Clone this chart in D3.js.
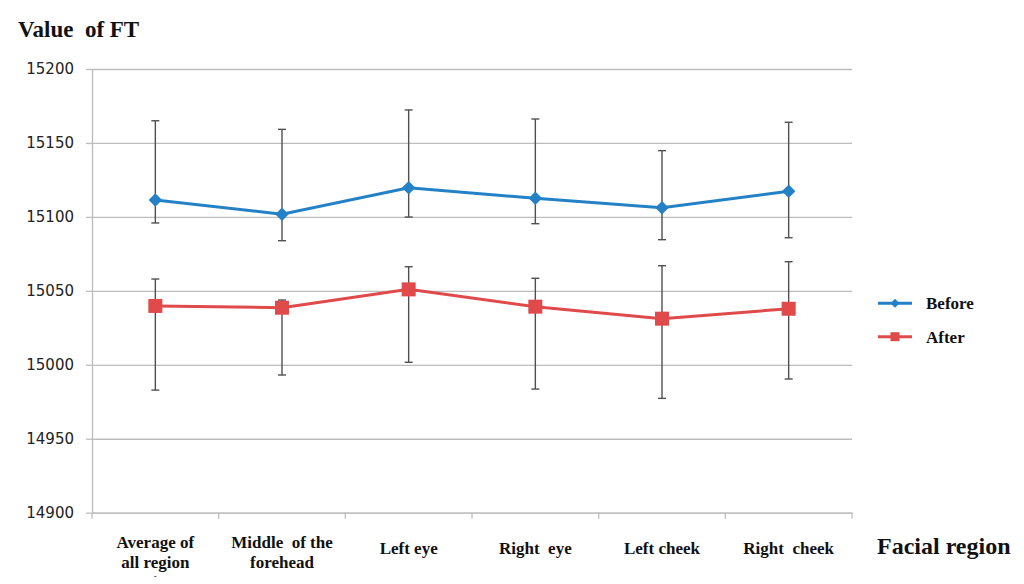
<!DOCTYPE html>
<html>
<head>
<meta charset="utf-8">
<script src="https://cdn.jsdelivr.net/npm/d3@7"></script>
<style>
  html, body { margin: 0; padding: 0; background: #fff; }
  svg { display: block; }
</style>
</head>
<body>
<svg id="chart" width="1024" height="584"></svg>
<script>
// ---- data ----
const categories = ["Average of all region", "Middle of the forehead", "Left eye", "Right eye", "Left cheek", "Right cheek"];
const categoryLines = [["Average of", "all region", "-"], ["Middle  of the", "forehead"], ["Left eye"], ["Right  eye"], ["Left cheek"], ["Right  cheek"]];
const seriesNames = ["Before", "After"];
const beforeValues = [15111.4, 15101.8, 15119.7, 15112.6, 15106.2, 15117.3];
const beforeHigh   = [15165.0, 15159.2, 15172.3, 15166.2, 15144.8, 15164.0];
const beforeLow    = [15095.9, 15083.9, 15099.9, 15095.4, 15084.6, 15085.9];
const afterValues  = [15039.8, 15038.6, 15051.0, 15039.3, 15031.2, 15037.9];
const afterHigh    = [15058.0, 15043.8, 15066.3, 15058.5, 15067.0, 15069.7];
const afterLow     = [14982.9, 14993.1, 15001.7, 14983.6, 14977.3, 14990.4];
const yTicks = [14900, 14950, 15000, 15050, 15100, 15150, 15200];

(function () {
// ---- layout ----
const svg = d3.select("#chart");
const pLeft = 92, pRight = 852, pTop = 69, pBottom = 512.7;
const x = d3.scaleBand().domain(categories).range([pLeft, pRight]).padding(0);
const y = d3.scaleLinear().domain([14900, 15200]).range([pBottom, pTop]);
const blue = "#2481c6", red = "#e04a4a";
const serif = "'Liberation Serif', 'Times New Roman', serif";

// gridlines
const grid = svg.append("g").attr("transform", `translate(${pLeft},0)`)
  .call(d3.axisLeft(y).tickValues(yTicks).tickSize(-(pRight - pLeft)).tickFormat(""));
grid.select(".domain").remove();
grid.selectAll("line").attr("stroke", "#bdbdbd").attr("stroke-width", 1.3);

// y axis
const yAxis = svg.append("g").attr("transform", `translate(${pLeft},0)`)
  .call(d3.axisLeft(y).tickValues(yTicks).tickSizeInner(6).tickSizeOuter(0).tickPadding(12).tickFormat(d3.format("d")));
yAxis.select(".domain").attr("stroke", "#bdbdbd").attr("stroke-width", 1.3);
yAxis.selectAll("line").attr("stroke", "#bdbdbd").attr("stroke-width", 1.3);
yAxis.selectAll("text").attr("font-family", "'DejaVu Sans', sans-serif").attr("font-size", 15).attr("fill", "#222");

// x axis
const xAxis = svg.append("g").attr("transform", `translate(0,${pBottom})`)
  .call(d3.axisBottom(x).tickSize(0).tickFormat(""));
xAxis.select(".domain").attr("stroke", "#bdbdbd").attr("stroke-width", 1.3);
const bounds = categories.map(c => x(c)).concat([x(categories[categories.length - 1]) + x.bandwidth()]);
svg.append("g").selectAll("line").data(bounds).join("line")
  .attr("x1", d => d).attr("x2", d => d).attr("y1", pBottom).attr("y2", pBottom + 6)
  .attr("stroke", "#bdbdbd").attr("stroke-width", 1.3);

// x labels
const xl = svg.append("g");
categories.forEach((c, i) => {
  const lines = categoryLines[i];
  const cx = x(c) + x.bandwidth() / 2;
  const startY = lines.length === 1 ? 554 : 548;
  const t = xl.append("text").attr("x", cx).attr("y", startY)
    .attr("text-anchor", "middle").attr("font-family", serif).attr("font-weight", "bold")
    .attr("font-size", 17).attr("fill", "#111").style("white-space", "pre");
  lines.forEach((ln, j) => {
    t.append("tspan").attr("x", cx).attr("dy", j === 0 ? 0 : (ln === "-" ? 11 : 20))
      .attr("font-size", ln === "-" ? 9 : null).attr("font-weight", ln === "-" ? "normal" : null).text(ln);
  });
});

// error bars
function errorBars(high, low) {
  const g = svg.append("g").attr("stroke", "#505050").attr("stroke-width", 1.4);
  categories.forEach((c, i) => {
    const cx = x(c) + x.bandwidth() / 2;
    g.append("line").attr("x1", cx).attr("x2", cx).attr("y1", y(high[i])).attr("y2", y(low[i]));
    [high[i], low[i]].forEach(v => {
      g.append("line").attr("x1", cx - 4).attr("x2", cx + 4).attr("y1", y(v)).attr("y2", y(v));
    });
  });
}
errorBars(beforeHigh, beforeLow);
errorBars(afterHigh, afterLow);

// lines
const line = d3.line().x((d, i) => x(categories[i]) + x.bandwidth() / 2).y(d => y(d));
svg.append("path").datum(beforeValues).attr("d", line).attr("fill", "none").attr("stroke", blue).attr("stroke-width", 3);
svg.append("path").datum(afterValues).attr("d", line).attr("fill", "none").attr("stroke", red).attr("stroke-width", 3);

// markers
svg.append("g").selectAll("path").data(beforeValues).join("path")
  .attr("transform", (d, i) => `translate(${x(categories[i]) + x.bandwidth() / 2},${y(d)}) rotate(45)`)
  .attr("d", d3.symbol(d3.symbolSquare, 90)())
  .attr("fill", blue);
svg.append("g").selectAll("rect").data(afterValues).join("rect")
  .attr("x", (d, i) => x(categories[i]) + x.bandwidth() / 2 - 7)
  .attr("y", d => y(d) - 7).attr("width", 14).attr("height", 14)
  .attr("fill", red);

// titles
svg.append("text").attr("x", 18).attr("y", 37).attr("font-family", serif).attr("font-weight", "bold")
  .attr("font-size", 23).attr("fill", "#111").style("white-space", "pre").text("Value  of FT");
svg.append("text").attr("x", 877).attr("y", 554).attr("font-family", serif).attr("font-weight", "bold")
  .attr("font-size", 24).attr("fill", "#111").text("Facial region");

// legend
const legend = svg.append("g");
const legY = [303.3, 336.7];
const legColors = [blue, red];
seriesNames.forEach((s, i) => {
  legend.append("line").attr("x1", 878).attr("x2", 912).attr("y1", legY[i]).attr("y2", legY[i])
    .attr("stroke", legColors[i]).attr("stroke-width", 3);
  if (i === 0) {
    legend.append("path").attr("transform", `translate(895,${legY[i]}) rotate(45)`)
      .attr("d", d3.symbol(d3.symbolSquare, 40)()).attr("fill", blue);
  } else {
    legend.append("rect").attr("x", 890.5).attr("y", legY[i] - 4.5).attr("width", 9).attr("height", 9).attr("fill", red);
  }
  legend.append("text").attr("x", 926).attr("y", legY[i] + 6).attr("font-family", serif).attr("font-weight", "bold")
    .attr("font-size", 17).attr("fill", "#111").text(s);
});
})();
</script>
</body>
</html>
